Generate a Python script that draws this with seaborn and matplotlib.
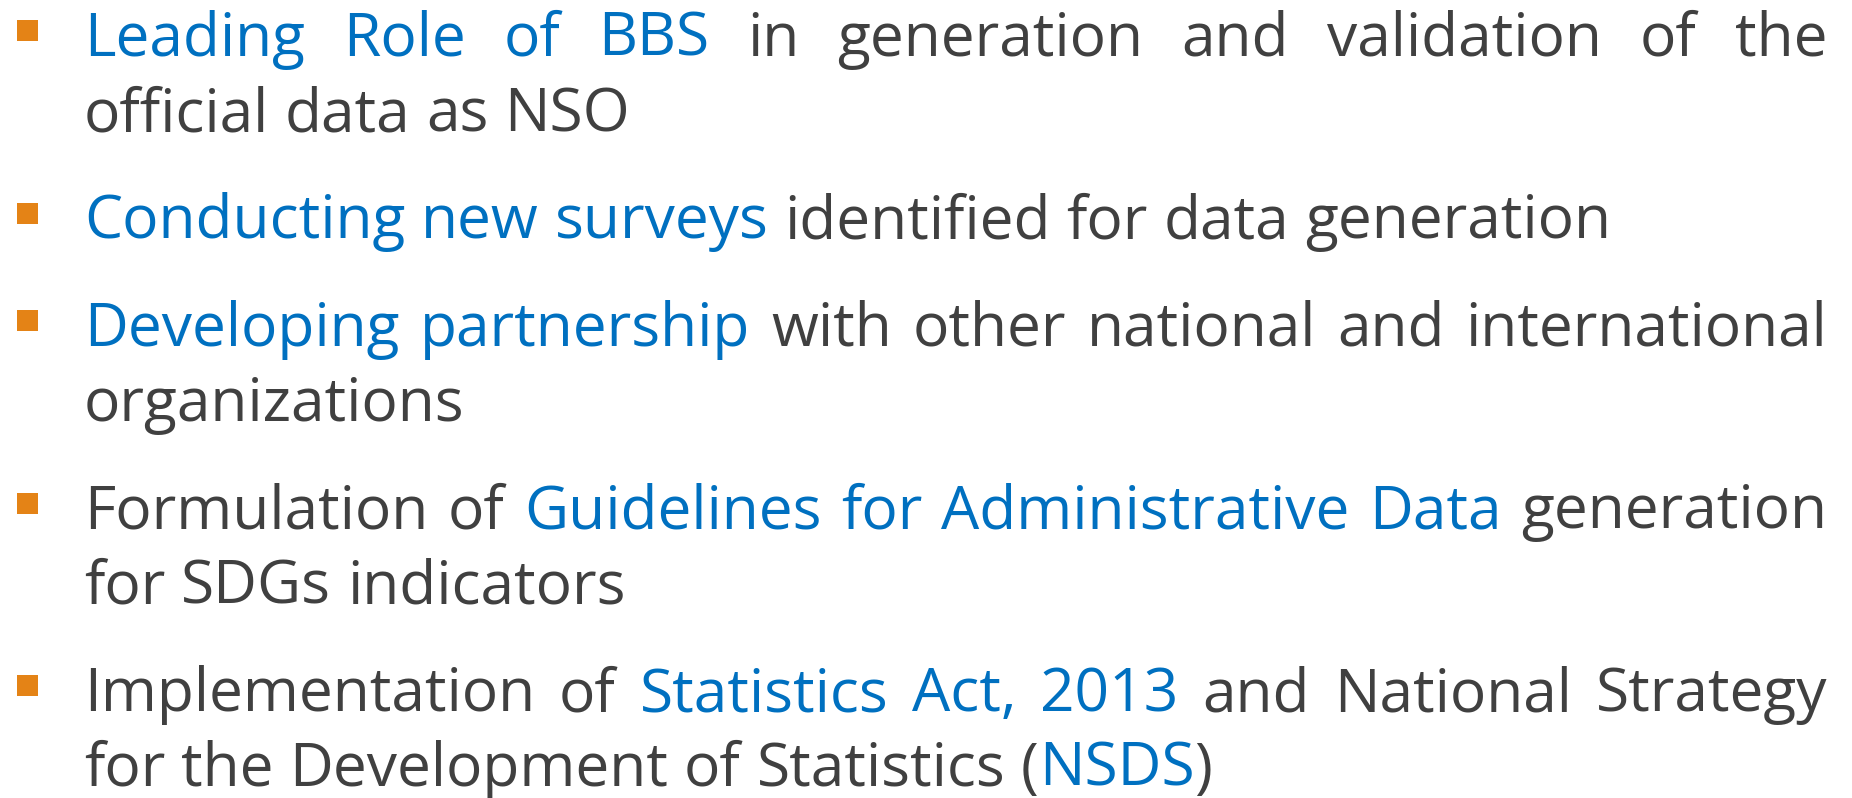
import matplotlib
matplotlib.use("Agg")
import matplotlib.pyplot as plt
import seaborn as sns
from matplotlib.patches import Rectangle

# texto dos tópicos: (trecho, destaque?) -- destaque = azul
# o espaço no fim do trecho separa as palavras; sem espaço o próximo trecho fica colado
topico_1 = [
    [("Leading Role of BBS ", True), ("in generation and validation of the", False)],
    [("official data as NSO", False)],
]
topico_2 = [
    [("Conducting new surveys ", True), ("identified for data generation", False)],
]
topico_3 = [
    [("Developing partnership ", True), ("with other national and international", False)],
    [("organizations", False)],
]
topico_4 = [
    [("Formulation of ", False), ("Guidelines for Administrative Data ", True), ("generation", False)],
    [("for SDGs indicators", False)],
]
topico_5 = [
    [("Implementation of ", False), ("Statistics Act, 2013 ", True), ("and National Strategy", False)],
    [("for the Development of Statistics (", False), ("NSDS", True), (")", False)],
]
topicos = [topico_1, topico_2, topico_3, topico_4, topico_5]

# cores e medidas (pixels da imagem final)
AZUL = "#0070C0"
CINZA = "#404040"
LARANJA = "#E48316"
X_TEXTO = 84
X_DIREITA = 1827
Y_INICIO = 56
ENTRELINHA = 75
ENTRE_TOPICOS = 107.5
TAM_FONTE = 43.6

sns.set_theme(style="white")
plt.rcParams["font.family"] = ["Open Sans", "DejaVu Sans"]

fig = plt.figure(figsize=(18.52, 7.98), dpi=100)
ax = fig.add_axes([0, 0, 1, 1])
ax.set_xlim(0, 1852)
ax.set_ylim(798, 0)
ax.axis("off")
renderer = fig.canvas.get_renderer()


def largura(txt):
    t = ax.text(0, 0, txt, fontsize=TAM_FONTE)
    w = t.get_window_extent(renderer).width
    t.remove()
    return w


ESPACO = largura("n n") - largura("nn")


def palavras(linha):
    # quebra a linha em palavras; uma palavra pode ter pedaços de cores diferentes
    lista = [[]]
    for trecho, destaque in linha:
        partes = trecho.split(" ")
        for i, p in enumerate(partes):
            if i > 0:
                lista.append([])
            if p:
                lista[-1].append((p, destaque))
    return [w for w in lista if w]


def desenha_linha(linha, y, justificar):
    ws = palavras(linha)
    larguras = [sum(largura(p) for p, _ in w) for w in ws]
    if justificar and len(ws) > 1:
        gap = (X_DIREITA - X_TEXTO - sum(larguras)) / (len(ws) - 1)
    else:
        gap = ESPACO
    x = X_TEXTO
    for w, lw in zip(ws, larguras):
        xx = x
        for p, destaque in w:
            ax.text(xx, y, p, fontsize=TAM_FONTE, color=AZUL if destaque else CINZA,
                    va="baseline", ha="left")
            xx += largura(p)
        x += lw + gap


y = Y_INICIO
for topico in topicos:
    # marcador quadrado laranja
    ax.add_patch(Rectangle((17, y - 36), 21, 21, color=LARANJA, lw=0))
    for i, linha in enumerate(topico):
        desenha_linha(linha, y, justificar=(i < len(topico) - 1))
        y += ENTRELINHA
    y += ENTRE_TOPICOS - ENTRELINHA

fig.savefig("out.png", dpi=100)
